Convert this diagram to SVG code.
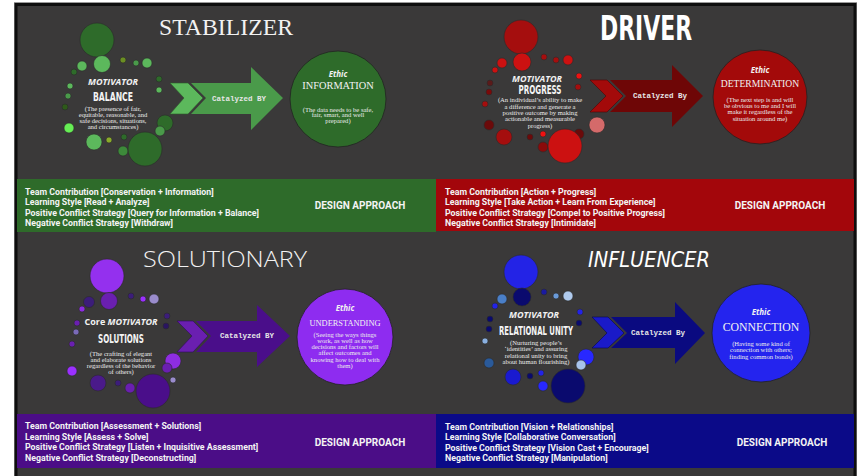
<svg xmlns="http://www.w3.org/2000/svg" width="859" height="476" viewBox="0 0 859 476">
<style>
.c{stroke:#2a2a2a;stroke-width:0.6}
.mot{font-family:"Open Sans","DejaVu Sans",sans-serif;font-weight:bold;font-style:italic;font-size:9px;fill:#f2f2f2;text-anchor:middle}
.key{font-family:"DejaVu Sans Condensed","DejaVu Sans",sans-serif;font-weight:bold;font-size:12px;fill:#f4f4f4;text-anchor:middle;font-stretch:condensed}
.desc{font-family:"Liberation Serif","Times New Roman",serif;font-size:6.6px;fill:#ececec;text-anchor:middle}
.eth{font-family:"Open Sans","DejaVu Sans",sans-serif;font-weight:bold;font-style:italic;font-size:8px;fill:#f2f2f2;text-anchor:middle}
.ename{font-family:"Liberation Serif","Times New Roman",serif;fill:#f2f2f2;text-anchor:middle}
.cat{font-family:"Liberation Mono","Courier New",monospace;font-weight:bold;font-size:8px;fill:#e6e6e6;text-anchor:middle}
.bar{font-family:Roboto,"Liberation Sans",sans-serif;font-weight:bold;font-size:8.8px;fill:#f4f4f4}
.da{font-family:Roboto,"Liberation Sans",sans-serif;font-weight:bold;font-size:10px;fill:#f4f4f4;text-anchor:middle}
.ecirc{stroke:#222;stroke-width:0.8}
</style>
<rect x="0" y="0" width="859" height="476" fill="#ffffff"/>
<rect x="14.5" y="2.5" width="842" height="480" fill="none" stroke="#9a9a9a" stroke-width="1"/>
<rect x="16" y="4.5" width="839" height="480" fill="#3a3939" stroke="#0e0e0e" stroke-width="3"/>

<!-- Titles -->
<text x="226" y="35" font-family="Liberation Serif, Times New Roman, serif" font-size="24" fill="#f2f2f2" text-anchor="middle" textLength="134" lengthAdjust="spacingAndGlyphs">STABILIZER</text>
<text x="646" y="40" font-family="DejaVu Sans Condensed, DejaVu Sans, sans-serif" font-weight="bold" font-size="34" fill="#ffffff" text-anchor="middle" textLength="92" lengthAdjust="spacingAndGlyphs">DRIVER</text>
<text x="225" y="267" font-family="Open Sans, Lato, sans-serif" font-weight="300" font-size="22" fill="#f2f2f2" text-anchor="middle" textLength="164" lengthAdjust="spacingAndGlyphs">SOLUTIONARY</text>
<text x="649" y="267" font-family="DejaVu Sans, sans-serif" font-style="italic" font-size="22" fill="#ffffff" text-anchor="middle" textLength="122" lengthAdjust="spacingAndGlyphs">INFLUENCER</text>

<!-- STABILIZER motivator -->
<g id="stabilizer-motivator">
<circle class="c" cx="97" cy="40" r="17" fill="#2e6b2a"/>
<circle class="c" cx="102" cy="64" r="8.5" fill="#5cb85c"/>
<circle class="c" cx="82" cy="66" r="5" fill="#5cb85c"/>
<circle class="c" cx="74" cy="72" r="3" fill="#2e6b2a"/>
<circle class="c" cx="123" cy="60" r="3" fill="#6b8e23"/>
<circle class="c" cx="136" cy="63" r="3" fill="#4a9a4a"/>
<circle class="c" cx="147" cy="63" r="5" fill="#5cb85c"/>
<circle class="c" cx="159" cy="79" r="3" fill="#2e6b2a"/>
<circle class="c" cx="159" cy="90" r="3" fill="#5cb85c"/>
<circle class="c" cx="70" cy="86" r="3" fill="#5cb85c"/>
<circle class="c" cx="68" cy="96" r="3" fill="#4a9a4a"/>
<circle class="c" cx="65" cy="107" r="3" fill="#2e5a1a"/>
<circle class="c" cx="165" cy="123" r="8" fill="#2e6b2a"/>
<circle class="c" cx="160" cy="131" r="5" fill="#4a9a4a"/>
<circle class="c" cx="69" cy="128" r="5" fill="#66ee55"/>
<circle class="c" cx="94" cy="142" r="8" fill="#5cb85c"/>
<circle class="c" cx="109" cy="140" r="3" fill="#8aaa2a"/>
<circle class="c" cx="124" cy="137" r="3" fill="#2e6b2a"/>
<circle class="c" cx="123" cy="151" r="5" fill="#3d8a3a"/>
<circle class="c" cx="145" cy="149" r="17" fill="#2e6b2a"/>
<text class="mot" x="113" y="85">MOTIVATOR</text>
<text class="key" x="113" y="101" textLength="40" lengthAdjust="spacingAndGlyphs">BALANCE</text>
<text class="desc"><tspan x="113" y="110.5">(The presence of fair,</tspan><tspan x="113" y="116.7">equitable, reasonable, and</tspan><tspan x="113" y="122.9">safe decisions, situations,</tspan><tspan x="113" y="129.1">and circumstances)</tspan></text>
</g>
<g id="stabilizer-ethic">
<circle class="ecirc" cx="338" cy="99" r="48" fill="#2e6b2a"/>
<text class="eth" x="338" y="77">Ethic</text>
<text class="ename" x="338" y="89" font-size="10.4">INFORMATION</text>
<text class="desc"><tspan x="338" y="111.5">(The data needs to be safe,</tspan><tspan x="338" y="117.3">fair, smart, and well</tspan><tspan x="338" y="123.1">prepared)</tspan></text>
</g>

<!-- DRIVER motivator -->
<g id="driver-motivator">
<circle class="c" cx="521" cy="37" r="17" fill="#a50e0e"/>
<circle class="c" cx="522" cy="62" r="9" fill="#cc1111"/>
<circle class="c" cx="502" cy="63" r="5" fill="#cc1111"/>
<circle class="c" cx="495" cy="70" r="3" fill="#cc1111"/>
<circle class="c" cx="544" cy="57" r="3" fill="#a50e0e"/>
<circle class="c" cx="556" cy="60" r="3" fill="#a50e0e"/>
<circle class="c" cx="568" cy="60" r="5" fill="#cc1111"/>
<circle class="c" cx="490" cy="83" r="3" fill="#5a1a1a"/>
<circle class="c" cx="489" cy="92" r="3" fill="#7a0a0a"/>
<circle class="c" cx="485" cy="104" r="3" fill="#a50e0e"/>
<circle class="c" cx="579" cy="76" r="3" fill="#ee1111"/>
<circle class="c" cx="578" cy="87" r="3" fill="#a50e0e"/>
<circle class="c" cx="597" cy="125" r="8" fill="#d46a6a"/>
<circle class="c" cx="579" cy="134" r="5" fill="#6b0a0a"/>
<circle class="c" cx="489" cy="125" r="5" fill="#6b0a0a"/>
<circle class="c" cx="504" cy="137" r="8" fill="#a50e0e"/>
<circle class="c" cx="530" cy="137" r="3" fill="#6b0a0a"/>
<circle class="c" cx="543" cy="134" r="3" fill="#ee1111"/>
<circle class="c" cx="543" cy="147" r="5" fill="#8b0a0a"/>
<circle class="c" cx="565" cy="146" r="17" fill="#cc1111"/>
<text class="mot" x="537" y="81.5">MOTIVATOR</text>
<text class="key" x="540" y="94" font-size="11.5" textLength="43" lengthAdjust="spacingAndGlyphs">PROGRESS</text>
<text class="desc"><tspan x="540" y="102.3">(An individual’s ability to make</tspan><tspan x="540" y="108.6">a difference and generate a</tspan><tspan x="540" y="114.9">positive outcome by making</tspan><tspan x="540" y="121.2">actionable and measurable</tspan><tspan x="540" y="127.5">progress)</tspan></text>
</g>
<g id="driver-ethic">
<circle class="ecirc" cx="760" cy="97" r="47" fill="#a30a0a"/>
<text class="eth" x="760" y="73">Ethic</text>
<text class="ename" x="760" y="87" font-size="9.6">DETERMINATION</text>
<text class="desc"><tspan x="760" y="102">(The next step is and will</tspan><tspan x="760" y="108.2">be obvious to me and I will</tspan><tspan x="760" y="114.4">make it regardless of the</tspan><tspan x="760" y="120.6">situation around me)</tspan></text>
</g>

<!-- SOLUTIONARY motivator -->
<g id="solutionary-motivator">
<circle class="c" cx="107" cy="276" r="17" fill="#9430ee"/>
<circle class="c" cx="109" cy="301" r="8.5" fill="#6a1fb0"/>
<circle class="c" cx="89" cy="302" r="5.5" fill="#3c1d7a"/>
<circle class="c" cx="82" cy="309" r="3" fill="#8e2de2"/>
<circle class="c" cx="131" cy="296" r="3" fill="#3c1d7a"/>
<circle class="c" cx="143" cy="299" r="3" fill="#9b30ff"/>
<circle class="c" cx="154" cy="299" r="5" fill="#9a8ccc"/>
<circle class="c" cx="167" cy="316" r="3" fill="#3c1d7a"/>
<circle class="c" cx="166" cy="326" r="3" fill="#2a1560"/>
<circle class="c" cx="77" cy="323" r="3" fill="#6a1fb0"/>
<circle class="c" cx="76" cy="332" r="3" fill="#7a6ab8"/>
<circle class="c" cx="72" cy="344" r="3" fill="#6a1fb0"/>
<circle class="c" cx="173" cy="361" r="8" fill="#8e2de2"/>
<circle class="c" cx="167" cy="368" r="5" fill="#6a1fb0"/>
<circle class="c" cx="72" cy="371" r="5" fill="#9b30ff"/>
<circle class="c" cx="98" cy="383" r="8" fill="#4a1a8a"/>
<circle class="c" cx="118" cy="383" r="3" fill="#3c1d7a"/>
<circle class="c" cx="130" cy="388" r="5" fill="#6a1fb0"/>
<circle class="c" cx="173" cy="380" r="3" fill="#9a8ccc"/>
<circle class="c" cx="153" cy="391" r="17" fill="#4a0e8a"/>
<text class="mot" x="121" y="325"><tspan font-style="normal">Core </tspan>MOTIVATOR</text>
<text class="key" x="121" y="342.5" textLength="46" lengthAdjust="spacingAndGlyphs">SOLUTIONS</text>
<text class="desc"><tspan x="121" y="355.5">(The crafting of elegant</tspan><tspan x="121" y="361.5">and elaborate solutions</tspan><tspan x="121" y="367.5">regardless of the behavior</tspan><tspan x="121" y="373.5">of others)</tspan></text>
</g>
<g id="solutionary-ethic">
<circle class="ecirc" cx="345" cy="337" r="48" fill="#8e2cf0"/>
<text class="eth" x="345" y="311">Ethic</text>
<text class="ename" x="345" y="325.5" font-size="8.4">UNDERSTANDING</text>
<text class="desc"><tspan x="345" y="337">(Seeing the ways things</tspan><tspan x="345" y="343.1">work, as well as how</tspan><tspan x="345" y="349.3">decisions and factors will</tspan><tspan x="345" y="355.4">affect outcomes and</tspan><tspan x="345" y="361.6">knowing how to deal with</tspan><tspan x="345" y="367.7">them)</tspan></text>
</g>

<!-- INFLUENCER motivator -->
<g id="influencer-motivator">
<circle class="c" cx="521" cy="272" r="17" fill="#2323e6"/>
<circle class="c" cx="522" cy="297" r="9" fill="#0a0a6e"/>
<circle class="c" cx="502" cy="299" r="5" fill="#4a7fc8"/>
<circle class="c" cx="495" cy="306" r="3" fill="#2323e6"/>
<circle class="c" cx="544" cy="292" r="3" fill="#1a1aa0"/>
<circle class="c" cx="556" cy="296" r="3" fill="#6a9ad8"/>
<circle class="c" cx="568" cy="296" r="5" fill="#b0cbee"/>
<circle class="c" cx="490" cy="319" r="3" fill="#0a0a6e"/>
<circle class="c" cx="489" cy="329" r="3" fill="#0a0a6e"/>
<circle class="c" cx="485" cy="341" r="3" fill="#8ab0e0"/>
<circle class="c" cx="580" cy="312" r="3" fill="#2323e6"/>
<circle class="c" cx="579" cy="323" r="3" fill="#0a0a6e"/>
<circle class="c" cx="586" cy="357" r="8" fill="#2828ff"/>
<circle class="c" cx="581" cy="365" r="5" fill="#a8c4ea"/>
<circle class="c" cx="489" cy="363" r="5" fill="#2a5a9a"/>
<circle class="c" cx="513" cy="377" r="8" fill="#1a1ad0"/>
<circle class="c" cx="530" cy="376" r="3" fill="#0a0a6e"/>
<circle class="c" cx="541" cy="373" r="3" fill="#2323e6"/>
<circle class="c" cx="543" cy="386" r="5" fill="#2828ff"/>
<circle class="c" cx="568" cy="386" r="17" fill="#0a0a6e"/>
<text class="mot" x="534" y="318">MOTIVATOR</text>
<text class="key" x="536" y="334.5" textLength="74" lengthAdjust="spacingAndGlyphs">RELATIONAL UNITY</text>
<text class="desc"><tspan x="536" y="344.5">(Nurturing people’s</tspan><tspan x="536" y="351">‘identities’ and assuring</tspan><tspan x="536" y="357.5">relational unity to bring</tspan><tspan x="536" y="364">about human flourishing)</tspan></text>
</g>
<g id="influencer-ethic">
<circle class="ecirc" cx="761" cy="333" r="49" fill="#2424ee"/>
<text class="eth" x="761" y="315">Ethic</text>
<text class="ename" x="761" y="330.5" font-size="11.8">CONNECTION</text>
<text class="desc"><tspan x="761" y="345.5">(Having some kind of</tspan><tspan x="761" y="352">connection with others;</tspan><tspan x="761" y="358.5">finding common bonds)</tspan></text>
</g>

<!-- Connectors (catalyzed arrows) -->
<g id="connectors">
<polygon points="191,83 251,83 251,67 283,98 251,130 251,114 191,114 206,98" fill="#4a9a4a"/>
<polygon points="170,83 188,83 203,98 188,114 170,114 184,98" fill="#5cb85c" stroke="#2d5a2a" stroke-width="0.6"/>
<text class="cat" x="239" y="101" textLength="54" lengthAdjust="spacingAndGlyphs">Catalyzed BY</text>

<polygon points="610,80 672,80 672,65 703,96 672,127 672,112 610,112 626,96" fill="#6e0606"/>
<polygon points="590,80 607,80 623,96 607,112 590,112 606,96" fill="#a30a0a" stroke="#4a0505" stroke-width="0.6"/>
<text class="cat" x="660" y="98" textLength="54" lengthAdjust="spacingAndGlyphs">Catalyzed By</text>

<polygon points="196,321 257,321 257,305 290,336 257,367 257,352 196,352 211,336" fill="#4a0e8a"/>
<polygon points="177,321 193,321 208,336 193,352 177,352 192,336" fill="#6a1fb0" stroke="#2e0a5a" stroke-width="0.6"/>
<text class="cat" x="247" y="338" textLength="54" lengthAdjust="spacingAndGlyphs">Catalyzed BY</text>

<polygon points="611,317 675,317 675,302 705,333 675,364 675,348 611,348 627,333" fill="#0a0a80"/>
<polygon points="592,317 608,317 624,333 608,348 592,348 607,333" fill="#1a1ac8" stroke="#06064a" stroke-width="0.6"/>
<text class="cat" x="658" y="335" textLength="54" lengthAdjust="spacingAndGlyphs">Catalyzed By</text>
</g>

<!-- Bars -->
<g id="stabilizer-bar">
<rect x="17" y="179" width="419" height="53" fill="#2e6b2a"/>
<text class="bar"><tspan x="25" y="194.5">Team Contribution [Conservation + Information]</tspan><tspan x="25" y="205">Learning Style [Read + Analyze]</tspan><tspan x="25" y="215.5">Positive Conflict Strategy [Query for Information + Balance]</tspan><tspan x="25" y="226">Negative Conflict Strategy [Withdraw]</tspan></text>
<text class="da" x="360" y="208.5">DESIGN APPROACH</text>
</g>
<g id="driver-bar">
<rect x="436" y="179" width="418" height="52" fill="#a3060b"/>
<text class="bar"><tspan x="445" y="194.5">Team Contribution [Action + Progress]</tspan><tspan x="445" y="205">Learning Style [Take Action + Learn From Experience]</tspan><tspan x="445" y="215.5">Positive Conflict Strategy [Compel to Positive Progress]</tspan><tspan x="445" y="226">Negative Conflict Strategy [Intimidate]</tspan></text>
<text class="da" x="780" y="208.5">DESIGN APPROACH</text>
</g>
<g id="solutionary-bar">
<rect x="17" y="414" width="419" height="54" fill="#4b0d87"/>
<text class="bar"><tspan x="25" y="429">Team Contribution [Assessment + Solutions]</tspan><tspan x="25" y="439.5">Learning Style [Assess + Solve]</tspan><tspan x="25" y="450">Positive Conflict Strategy [Listen + Inquisitive Assessment]</tspan><tspan x="25" y="460.5">Negative Conflict Strategy [Deconstructing]</tspan></text>
<text class="da" x="360" y="445.5">DESIGN APPROACH</text>
</g>
<g id="influencer-bar">
<rect x="436" y="414" width="418" height="54" fill="#0b0a88"/>
<text class="bar"><tspan x="445" y="429.5">Team Contribution [Vision + Relationships]</tspan><tspan x="445" y="440">Learning Style [Collaborative Conversation]</tspan><tspan x="445" y="450.5">Positive Conflict Strategy [Vision Cast + Encourage]</tspan><tspan x="445" y="461">Negative Conflict Strategy [Manipulation]</tspan></text>
<text class="da" x="782" y="446">DESIGN APPROACH</text>
</g>
</svg>
